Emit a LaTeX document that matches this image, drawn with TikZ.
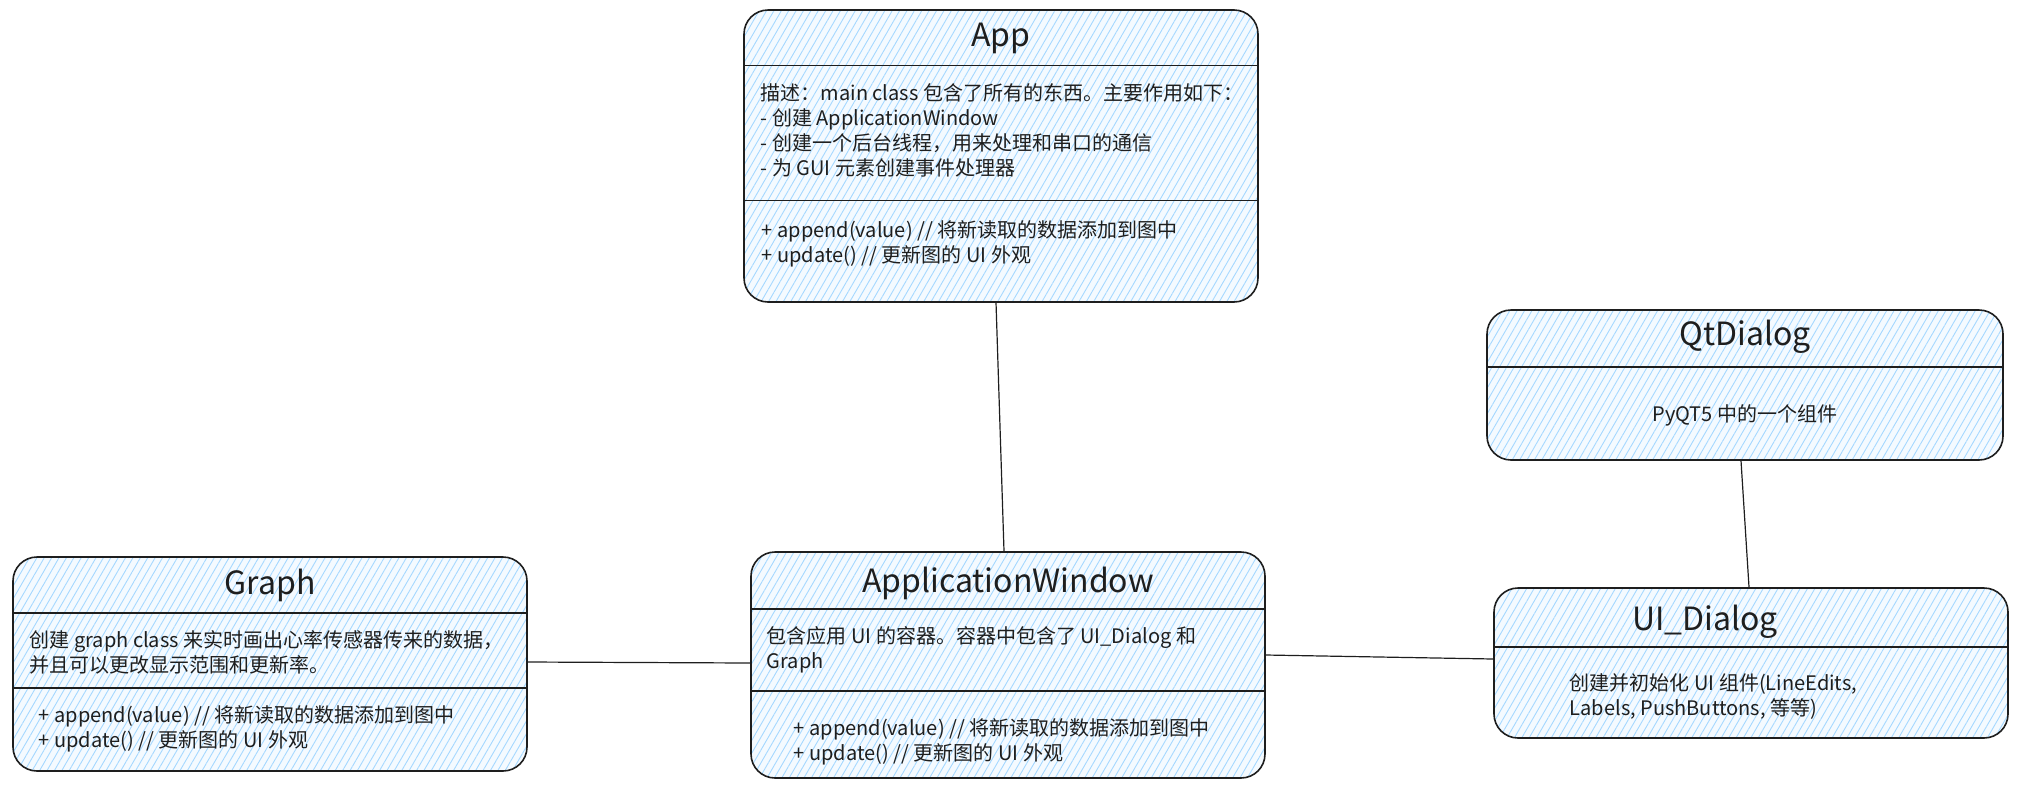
\documentclass[tikz,border=0pt]{standalone}
\usepackage{fontspec}
\setmainfont{Noto Sans CJK SC}
\usetikzlibrary{positioning,patterns.meta}
\definecolor{hatch}{HTML}{A5D8FF}
\definecolor{paper}{HTML}{F4FAFF}
\definecolor{ink}{HTML}{1E1E1E}

\begin{document}
\begin{tikzpicture}[
    x=0.5pt, y=-0.5pt,
    draw=ink, line width=0.8pt,
    %
    classbox/.style={draw=ink, rectangle, rounded corners=12pt, line width=0.8pt,
        preaction={fill=paper},
        pattern={Lines[angle=60,distance=3.2pt,line width=0.45pt]}, pattern color=hatch},
    title/.style={font=\fontsize{16}{19}\selectfont, text=ink, inner sep=0pt},
    body/.style={font=\fontsize{10}{12.5}\selectfont, text=ink, align=left,
        inner sep=0pt, anchor=north west},
    %
    link/.style={draw=ink, line width=0.6pt},
    divider/.style={draw=ink, line width=0.8pt}
    ]
    \useasboundingbox (0,0) rectangle (2017,788);

    % class boxes
    \node[classbox, minimum width=257pt, minimum height=146pt] (app)   at (1001,156) {};
    \node[classbox, minimum width=257pt, minimum height=113pt] (aw)    at (1008,665) {};
    \node[classbox, minimum width=257pt, minimum height=107pt] (graph) at (270,664)  {};
    \node[classbox, minimum width=258pt, minimum height=75pt]  (qt)    at (1745,385) {};
    \node[classbox, minimum width=257pt, minimum height=75pt]  (ui)    at (1751,663) {};
    %
    \draw[divider] ([yshift=-28pt]app.north west) -- ([yshift=-28pt]app.north east);
    \draw[divider] ([yshift=-95.5pt]app.north west) -- ([yshift=-95.5pt]app.north east);
    \draw[divider] ([yshift=-29pt]aw.north west) -- ([yshift=-29pt]aw.north east);
    \draw[divider] ([yshift=-70pt]aw.north west) -- ([yshift=-70pt]aw.north east);
    \draw[divider] ([yshift=-28.5pt]graph.north west) -- ([yshift=-28.5pt]graph.north east);
    \draw[divider] ([yshift=-66pt]graph.north west) -- ([yshift=-66pt]graph.north east);
    \draw[divider] ([yshift=-29pt]qt.north west) -- ([yshift=-29pt]qt.north east);
    \draw[divider] ([yshift=-30pt]ui.north west) -- ([yshift=-30pt]ui.north east);

    % titles
    \node[title] (apptitle)   at (1001,38)  {App};
    \node[title] (awtitle)    at (1008,583) {ApplicationWindow};
    \node[title] (graphtitle) at (270,585)  {Graph};
    \node[title] (qttitle)    at (1745,337) {QtDialog};
    \node[title] (uititle)    at (1705,622) {UI\_Dialog};

    % descriptions and methods
    \node[body] (appdesc) at (760,83)
        {描述：main class 包含了所有的东西。主要作用如下：\\
         - 创建 ApplicationWindow\\
         - 创建一个后台线程，用来处理和串口的通信\\
         - 为 GUI 元素创建事件处理器};
    \node[body] (appops) at (761,220)
        {+ append(value) // 将新读取的数据添加到图中\\
         + update() // 更新图的 UI 外观};
    \node[body] (awdesc) at (766,626)
        {包含应用 UI 的容器。容器中包含了 UI\_Dialog 和\\
         Graph};
    \node[body] (awops) at (793,718)
        {+ append(value) // 将新读取的数据添加到图中\\
         + update() // 更新图的 UI 外观};
    \node[body] (graphdesc) at (29,630)
        {创建 graph class 来实时画出心率传感器传来的数据，\\
         并且可以更改显示范围和更新率。};
    \node[body] (graphops) at (38,705)
        {+ append(value) // 将新读取的数据添加到图中\\
         + update() // 更新图的 UI 外观};
    \node[body, anchor=center] (qtdesc) at (1745,415) {PyQT5 中的一个组件};
    \node[body] (uidesc) at (1569,673)
        {创建并初始化 UI 组件(LineEdits,\\
         Labels, PushButtons, 等等)};

    % associations
    \draw[link] ([xshift=-2.5pt]app.south) -- ([xshift=-2pt]aw.north);
    \draw[link] ([yshift=1pt]graph.east) -- ([yshift=1pt]aw.west);
    \draw[link] ([yshift=5pt]aw.east) -- ([yshift=2pt]ui.west);
    \draw[link] ([xshift=-2pt]qt.south) -- ([xshift=-1pt]ui.north);
    %
\end{tikzpicture}
\end{document}
